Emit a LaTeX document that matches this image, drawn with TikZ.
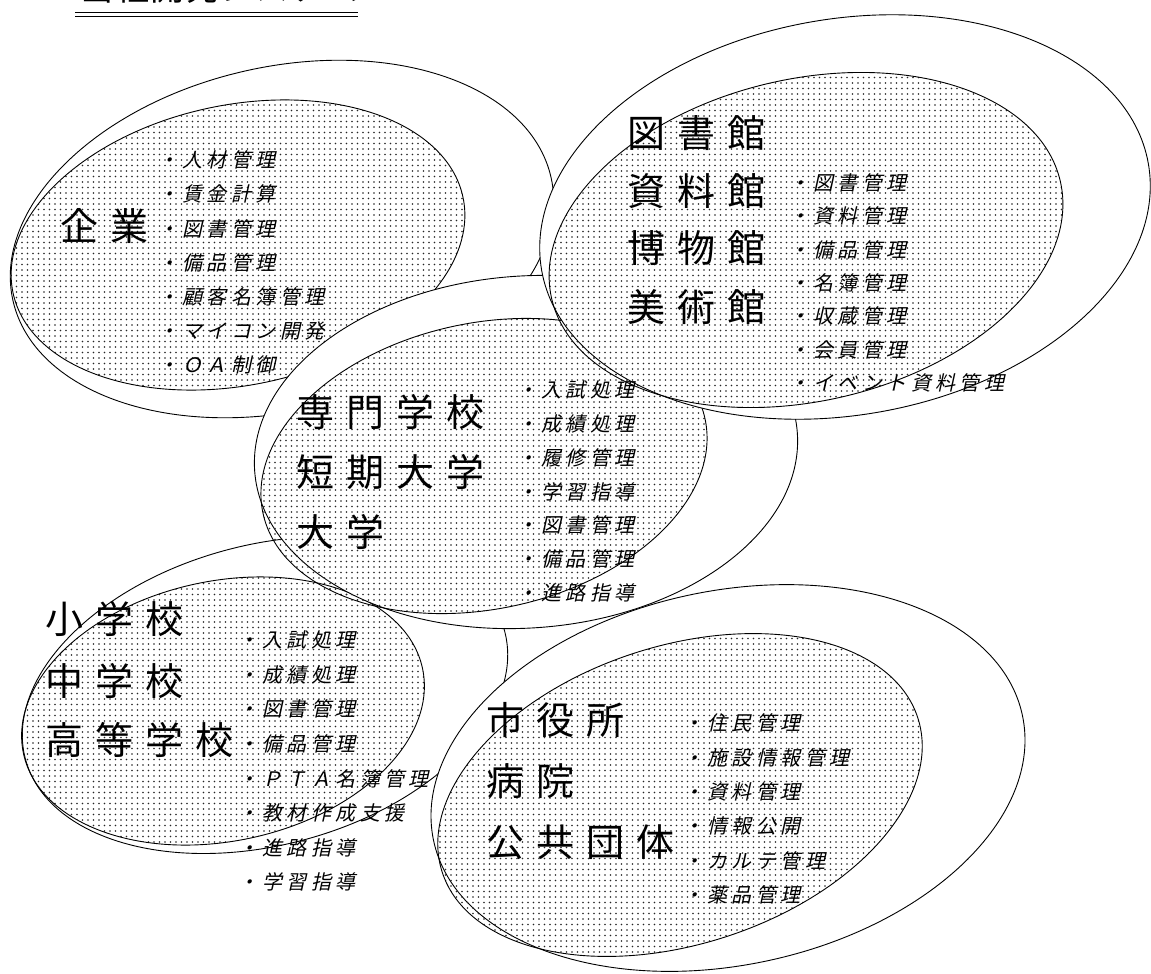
\documentclass[tikz,border=0pt]{standalone}
\usepackage{fontspec}
\setmainfont{Noto Sans CJK JP}
\newfontfamily\lblfont{Noto Sans CJK JP}[LetterSpace=32]
\newfontfamily\itmfont{Noto Sans CJK JP}[FakeSlant=0.22,LetterSpace=22]
\newfontfamily\ttlfont{Noto Sans CJK JP}[LetterSpace=3]
\usetikzlibrary{shapes.geometric,patterns.meta}
\begin{document}
\begin{tikzpicture}[x=1pt,y=-1pt,
  outerE/.style={ellipse,draw=black,line width=0.9pt,fill=white,inner sep=0pt,outer sep=0pt},
  innerE/.style={ellipse,draw=black,line width=0.9pt,pattern={Dots[distance=5.5pt,radius=0.85pt]},pattern color=black!85,inner sep=0pt,outer sep=0pt},
  lbl/.style={anchor=west,inner sep=0pt,font=\lblfont\fontsize{38}{46}\selectfont},
  itm/.style={anchor=west,inner sep=0pt,font=\itmfont\fontsize{20}{24}\selectfont},
  ttl/.style={anchor=base west,inner sep=0pt,font=\ttlfont\fontsize{34}{40}\selectfont},
  uline/.style={line width=1.3pt}]
\useasboundingbox (0,0) rectangle (1151,974);
\fill[white] (0,0) rectangle (1151,974);

% title (cut off by the page top, as in the reference)
\node[ttl] (title) at (80,1) {当社開発システム};
\coordinate (ulA) at (75,12.7); \coordinate (ulB) at (358,12.7);
\coordinate (ulC) at (75,16.5); \coordinate (ulD) at (358,16.5);
\draw[uline] (ulA) -- (ulB);
\draw[uline] (ulC) -- (ulD);

% 小学校 group
\node[outerE,minimum width=496pt,minimum height=300pt,rotate=15] (shoO) at (265,695) {};
\node[innerE,minimum width=408pt,minimum height=260pt,rotate=12] (shoI) at (223,711) {};
% 企業 group
\node[outerE,minimum width=552pt,minimum height=344pt,rotate=13] (kgO) at (282,239) {};
\node[innerE,minimum width=460pt,minimum height=280pt,rotate=12] (kgI) at (238,245) {};
% 専門学校 group
\node[outerE,minimum width=544pt,minimum height=352pt,rotate=4] (smO) at (526,452) {};
\node[innerE,minimum width=452pt,minimum height=286pt,rotate=12] (smI) at (484,466) {};
% 市役所 group
\node[outerE,minimum width=602pt,minimum height=374pt,rotate=12] (syO) at (728,778) {};
\node[innerE,minimum width=500pt,minimum height=298pt,rotate=18] (syI) at (680,795) {};
% 図書館 group
\node[outerE,minimum width=616pt,minimum height=396pt,rotate=10] (tzO) at (845,217) {};
\node[innerE,minimum width=522pt,minimum height=322pt,rotate=13] (tzI) at (806,240) {};

% labels
\node[lbl] (kgL1) at (60,226) {企業};
\foreach \t/\y [count=\i] in {図書館/133,資料館/191,博物館/248,美術館/307}
  \node[lbl] (tzL\i) at (627,\y) {\t};
\foreach \t/\y [count=\i] in {専門学校/412,短期大学/472,大学/532}
  \node[lbl] (smL\i) at (296,\y) {\t};
\foreach \t/\y [count=\i] in {小学校/619,中学校/681,高等学校/740}
  \node[lbl] (shoL\i) at (45,\y) {\t};
\foreach \t/\y [count=\i] in {市役所/720,病院/781,公共団体/842}
  \node[lbl] (syL\i) at (486,\y) {\t};

% items
\foreach \t [count=\i] in {人材管理,賃金計算,図書管理,備品管理,顧客名簿管理,マイコン開発,ＯＡ制御}
  \node[itm] (kgT\i) at (158,{160+34.2*(\i-1)}) {・\t};
\foreach \t [count=\i] in {図書管理,資料管理,備品管理,名簿管理,収蔵管理,会員管理,イベント資料管理}
  \node[itm] (tzT\i) at (789,{183+33.3*(\i-1)}) {・\t};
\foreach \t [count=\i] in {入試処理,成績処理,履修管理,学習指導,図書管理,備品管理,進路指導}
  \node[itm] (smT\i) at (517,{390+33.8*(\i-1)}) {・\t};
\foreach \t [count=\i] in {入試処理,成績処理,図書管理,備品管理,ＰＴＡ名簿管理,教材作成支援,進路指導,学習指導}
  \node[itm] (shoT\i) at (238,{640+34.6*(\i-1)}) {・\t};
\foreach \t [count=\i] in {住民管理,施設情報管理,資料管理,情報公開,カルテ管理,薬品管理}
  \node[itm] (syT\i) at (683,{723+34.4*(\i-1)}) {・\t};
\end{tikzpicture}
\end{document}
